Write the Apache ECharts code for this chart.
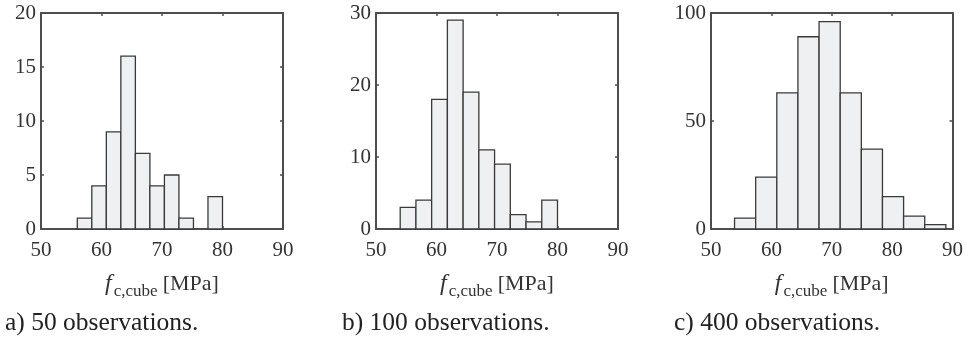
<!DOCTYPE html>
<html>
<head>
<meta charset="utf-8">
<script src="https://cdn.jsdelivr.net/npm/echarts@6/dist/echarts.min.js"></script>
<style>
  html, body { margin: 0; padding: 0; background: #fff; }
  #chart { width: 966px; height: 344px; }
</style>
</head>
<body>
<div id="chart"></div>
<script>
// bin edges [MPa] and counts
const edgesA = [56, 58.4, 60.8, 63.2, 65.6, 68, 70.4, 72.8, 75.2, 77.6, 80];
const countsA = [1, 4, 9, 16, 7, 4, 5, 1, 0, 3];
const edgesB = [54, 56.6, 59.2, 61.8, 64.4, 67, 69.6, 72.2, 74.8, 77.4, 80];
const countsB = [3, 4, 18, 29, 19, 11, 9, 2, 1, 4];
const edgesC = [53.9, 57.4, 60.9, 64.4, 67.9, 71.4, 74.9, 78.4, 81.9, 85.4, 88.9];
const countsC = [5, 24, 63, 89, 96, 63, 37, 15, 6, 2];

const xTicks = [50, 60, 70, 80, 90];
const yMax = [20, 30, 100];
const yStep = [5, 10, 50];
const captions = ['a) 50 observations.', 'b) 100 observations.', 'c) 400 observations.'];

const FONT = 'Liberation Serif';
const boxColor = '#4d4d4d';
const lefts = [41, 376, 711];
const captionLefts = [0, 337, 669];

const chart = echarts.init(document.getElementById('chart'));

const toBins = (edges, counts) =>
  counts.map((c, i) => [edges[i], edges[i + 1], c]).filter(d => d[2] > 0);

const allBins = [toBins(edgesA, countsA), toBins(edgesB, countsB), toBins(edgesC, countsC)];

const grids = [];
const xAxes = [];
const yAxes = [];
const series = [];
const titles = [];

for (let k = 0; k < 3; k++) {
  grids.push({ left: lefts[k], top: 13, width: 242, height: 216, containLabel: false });

  const axisLine = { show: true, onZero: false, lineStyle: { color: boxColor, width: 2 } };
  const tick = { show: true, inside: true, length: 3, lineStyle: { color: boxColor, width: 1.5 } };

  // bottom x axis
  xAxes.push({
    type: 'value', gridIndex: k, min: xTicks[0], max: xTicks[xTicks.length - 1], interval: 10,
    position: 'bottom',
    axisLine, axisTick: tick, splitLine: { show: false },
    axisLabel: { color: '#333', fontFamily: FONT, fontSize: 21, margin: 11 },
    name: '{f|f}{sub|c,cube}{u|[MPa]}',
    nameLocation: 'middle', nameGap: 39,
    nameTextStyle: {
      color: '#333',
      rich: {
        f: { fontFamily: FONT, fontStyle: 'italic', fontSize: 24, color: '#333' },
        sub: { fontFamily: FONT, fontSize: 17, color: '#333', padding: [15, 5, 0, 2] },
        u: { fontFamily: FONT, fontSize: 22, color: '#333' }
      }
    }
  });
  // top x axis (box + inside ticks)
  xAxes.push({
    type: 'value', gridIndex: k, min: xTicks[0], max: xTicks[xTicks.length - 1], interval: 10,
    position: 'top',
    axisLine, axisTick: tick, axisLabel: { show: false }, splitLine: { show: false }
  });
  // left y axis
  yAxes.push({
    type: 'value', gridIndex: k, min: 0, max: yMax[k], interval: yStep[k],
    position: 'left',
    axisLine, axisTick: tick, splitLine: { show: false },
    axisLabel: { color: '#333', fontFamily: FONT, fontSize: 21, margin: 5 }
  });
  // right y axis
  yAxes.push({
    type: 'value', gridIndex: k, min: 0, max: yMax[k], interval: yStep[k],
    position: 'right',
    axisLine, axisTick: tick, axisLabel: { show: false }, splitLine: { show: false }
  });

  series.push({
    type: 'custom',
    xAxisIndex: 2 * k,
    yAxisIndex: 2 * k,
    silent: true,
    data: allBins[k],
    encode: { x: [0, 1], y: 2 },
    renderItem: function (params, api) {
      const p0 = api.coord([api.value(0), api.value(2)]);
      const p1 = api.coord([api.value(1), 0]);
      return {
        type: 'rect',
        shape: { x: p0[0], y: p0[1], width: p1[0] - p0[0], height: p1[1] - p0[1] },
        style: { fill: '#eef0f2', stroke: '#3a3a3a', lineWidth: 1.3 }
      };
    },
    z: 1
  });

  titles.push({
    text: captions[k],
    left: captionLefts[k],
    top: 305,
    textStyle: { fontFamily: FONT, fontSize: 25.5, fontWeight: 'normal', color: '#222' }
  });
}

chart.setOption({
  animation: false,
  title: titles,
  grid: grids,
  xAxis: xAxes,
  yAxis: yAxes,
  series
});
</script>
</body>
</html>
